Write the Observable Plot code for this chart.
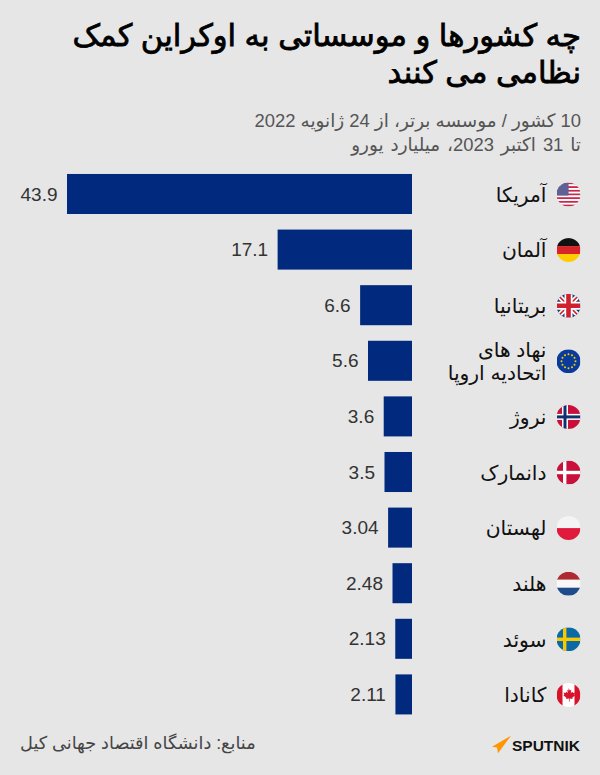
<!DOCTYPE html>
<html lang="fa">
<head>
<meta charset="utf-8">
<script src="https://cdn.jsdelivr.net/npm/d3@7"></script>
<script src="https://cdn.jsdelivr.net/npm/@observablehq/plot@0.6"></script>
<style>
html,body{margin:0;padding:0;background:#e6e6e6;}
body{width:600px;height:775px;overflow:hidden;position:relative;font-family:"Liberation Sans","DejaVu Sans",sans-serif;}
#title{position:absolute;top:17px;left:20px;width:561px;direction:rtl;text-align:right;font-size:30.7px;line-height:37px;font-weight:400;-webkit-text-stroke:0.8px #000;color:#000;}
#sub{position:absolute;top:109px;left:20px;width:561px;direction:rtl;text-align:right;font-size:18.4px;line-height:24px;color:#555;}
#sub span{word-spacing:1.8px;}
#chart{position:absolute;top:158px;left:0;}
#source{position:absolute;top:732px;left:20px;font-size:17.7px;line-height:22px;color:#444;direction:rtl;}
#logo{position:absolute;left:491px;top:735px;}
svg{display:block}
</style>
</head>
<body>
<div id="title">چه کشورها و موسساتی به اوکراین کمک نظامی می کنند</div>
<div id="sub">10 کشور / موسسه برتر، از 24 ژانویه 2022<br><span>تا 31 اکتبر 2023، میلیارد یورو</span></div>
<div id="chart"></div>
<div id="source">منابع: دانشگاه اقتصاد جهانی کیل</div>
<svg id="logo" width="92" height="22" viewBox="0 0 92 22">
<path d="M1 11.7 L20 0.7 L7 18.3 L6 12.5 Z" fill="#ff9600"/>
<text x="21" y="16" font-family="Liberation Sans" font-weight="700" font-size="15.5" fill="#111">SPUTNIK</text>
</svg>
<script>
const countries = ["آمریکا","آلمان","بریتانیا","نهاد های\nاتحادیه اروپا","نروژ","دانمارک","لهستان","هلند","سوئد","کانادا"];
const values = [43.9,17.1,6.6,5.6,3.6,3.5,3.04,2.48,2.13,2.11];
const valueLabels = ["43.9","17.1","6.6","5.6","3.6","3.5","3.04","2.48","2.13","2.11"];

const stripes = (cols, w=24) => cols.map((c,i)=>`<rect y="${i*24/cols.length}" width="${w}" height="${24/cols.length+.1}" fill="${c}"/>`).join("");
const cross = (bg, c1, c2) => `<rect width="24" height="24" fill="${bg}"/>` +
  (c2 ? `<rect x="5.5" width="6" height="24" fill="${c2}"/><rect y="9" width="24" height="6" fill="${c2}"/>` : "") +
  `<rect x="${c2?7:6.5}" width="${c2?3:3.4}" height="24" fill="${c1}"/><rect y="${c2?10.5:10.3}" width="24" height="${c2?3:3.4}" fill="${c1}"/>`;
const usStripes = Array.from({length:13},(_,i)=> i%2 ? "#fff" : "#c8284a");
const stars = [[12,5],[15.5,6],[18,8.5],[19,12],[18,15.5],[15.5,18],[12,19],[8.5,18],[6,15.5],[5,12],[6,8.5],[8.5,6]];
const flagArt = [
  stripes(usStripes) + `<rect width="12" height="13" fill="#3c3f7e"/><rect width="12" height="13" fill="url(#d)"/><defs><pattern id="d" width="2" height="2" patternUnits="userSpaceOnUse"><circle cx="1" cy="1" r=".55" fill="#dcdcec"/></pattern></defs>`,
  stripes(["#111","#d8232a","#ffcc00"]),
  `<rect width="24" height="24" fill="#1f3a7a"/><path d="M0 0L24 24M24 0L0 24" stroke="#fff" stroke-width="5"/><path d="M0 0L24 24M24 0L0 24" stroke="#cf2030" stroke-width="1.6"/><path d="M12 0V24M0 12H24" stroke="#fff" stroke-width="8"/><path d="M12 0V24M0 12H24" stroke="#cf2030" stroke-width="4.6"/>`,
  `<rect width="24" height="24" fill="#0a3a9c"/>` + stars.map(([x,y])=>`<circle cx="${x}" cy="${y}" r="1" fill="#f7d000"/>`).join(""),
  cross("#c8103a","#12306e","#fff"),
  cross("#c8103a","#fff"),
  stripes(["#f4f4f4","#e01a3c"]),
  stripes(["#ac2a30","#f8f8f8","#1f4a8c"]),
  cross("#0b6aa6","#f8c800"),
  `<rect width="24" height="24" fill="#fff"/><rect width="6" height="24" fill="#d9122b"/><rect x="18" width="6" height="24" fill="#d9122b"/><path d="M12 5l1.4 2.6 1.4-.7-.5 3.3 1.7-1.4.5 1.2 2-.3-.6 2.1.9.5-3.1 2.5.4 1.3-3-.4.1 3h-.8l.1-3-3 .4.4-1.3-3.1-2.5.9-.5-.6-2.1 2 .3.5-1.2 1.7 1.4-.5-3.3 1.4.7z" fill="#d9122b"/>`
];
const flags = flagArt.map(a => "data:image/svg+xml;charset=utf-8," + encodeURIComponent(`<svg xmlns="http://www.w3.org/2000/svg" viewBox="0 0 24 24" width="48" height="48">${a}</svg>`));

const rows = countries.map((name,i)=>({name, value:values[i], label:valueLabels[i], flag:flags[i]}));

const plot = Plot.plot({
  width:600, height:572, margin:0,
  style:{background:"transparent", fontFamily:'"Liberation Sans","DejaVu Sans",sans-serif'},
  x:{domain:[0,43.9], range:[412,67], axis:null},
  y:{domain:countries, range:[0.4,572], padding:0.28, round:false, axis:null},
  marks:[
    Plot.barX(rows,{x:"value", y:"name", fill:"#01297e"}),
    Plot.text(rows,{x:"value", y:"name", text:"label", textAnchor:"end", dx:-10, fontSize:19, fill:"#333"}),
    Plot.text(rows,{x:0, y:"name", text:"name", textAnchor:"end", dx:134, fontSize:20.3, lineHeight:1.12, fill:"#111"}),
    Plot.image(rows,{x:0, y:"name", src:"flag", r:12, dx:156})
  ]
});
document.getElementById("chart").appendChild(plot);
</script>
</body>
</html>
